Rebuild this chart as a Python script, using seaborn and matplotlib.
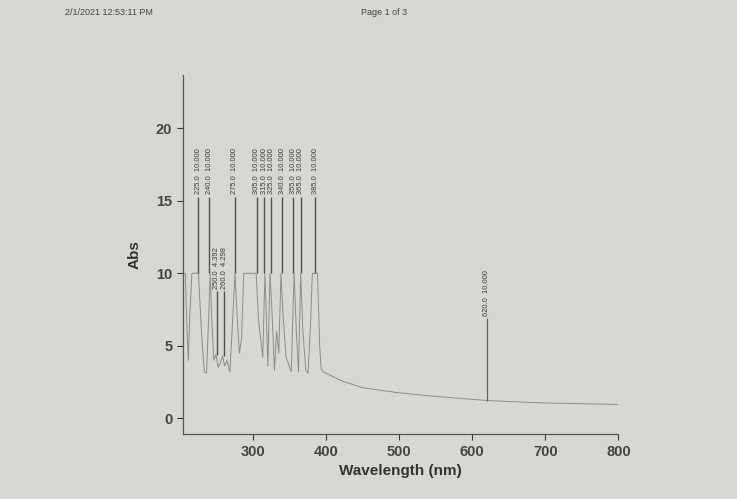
import matplotlib
matplotlib.use("Agg")
import matplotlib.pyplot as plt
import seaborn as sns
import pandas as pd

# ---- data ----
wavelength = [205, 207, 209, 211, 213, 216, 222, 225, 229, 233, 236, 239, 241, 243, 246,
              249, 252, 255, 258, 261, 264, 268, 271, 275, 278, 281, 284, 287, 300, 304,
              307, 310, 313, 316, 318, 320, 323, 326, 329, 332, 335, 338, 341, 345, 348,
              352, 356, 359, 362, 365, 368, 372, 375, 378, 381, 385, 388, 391, 393, 396,
              400, 420, 450, 500, 550, 600, 620, 650, 700, 750, 800]
absorb = [10, 10, 6.5, 4.0, 7.0, 10, 10, 10, 6.0, 3.2, 3.1, 7.0, 10, 7.0, 4.0,
          4.39, 3.5, 3.8, 4.3, 3.6, 4.0, 3.2, 6.0, 10, 7.0, 4.5, 5.5, 10, 10, 10,
          7.0, 5.5, 4.2, 10, 7.0, 3.6, 10, 7.0, 3.3, 6.0, 4.5, 10, 7.0, 4.2, 3.8,
          3.2, 10, 6.0, 3.2, 10, 6.0, 3.3, 3.1, 6.0, 10, 10, 10, 5.0, 3.4, 3.2,
          3.1, 2.6, 2.1, 1.75, 1.5, 1.3, 1.22, 1.15, 1.05, 1.0, 0.95]

peak_wl = [225.0, 240.0, 275.0, 305.0, 315.0, 325.0, 340.0, 355.0, 365.0, 385.0]
peak_abs = [10.000, 10.000, 10.000, 10.000, 10.000, 10.000, 10.000, 10.000, 10.000, 10.000]
small_wl = [250.0, 260.0]
small_abs = [4.392, 4.298]
far_wl = [620.0]
far_abs = [10.000]
far_base = [1.22]

x_ticks = [300, 400, 500, 600, 700, 800]
y_ticks = [0, 5, 10, 15, 20]

header_left = "2/1/2021 12:53:11 PM"
header_mid = "Page 1 of 3"

# ---- plot ----
sns.set_style("ticks")
plt.rcParams['font.family'] = ['Liberation Sans', 'DejaVu Sans']
paper = "#d9d7d3"
ink = "#3a3a3a"
curve = "#8c8c8c"

fig = plt.figure(figsize=(7.37, 4.99), dpi=100, facecolor=paper)
ax = fig.add_axes([0.248, 0.130, 0.591, 0.720])
ax.set_facecolor(paper)

df = pd.DataFrame({"Wavelength (nm)": wavelength, "Abs": absorb})
sns.lineplot(data=df, x="Wavelength (nm)", y="Abs", ax=ax, color=curve,
             linewidth=0.7, sort=False, estimator=None)

# peak marker lines + labels
ax.vlines(peak_wl, peak_abs, [15.3] * len(peak_wl), color="#505050", linewidth=1.0)
for w, a in zip(peak_wl, peak_abs):
    ax.text(w, 15.45, f"{w:.1f}  {a:.3f}", rotation=90, ha="center", va="bottom",
            fontsize=5.4, color=ink)
ax.vlines(small_wl, small_abs, [8.8] * len(small_wl), color="#505050", linewidth=1.0)
for w, a in zip(small_wl, small_abs):
    ax.text(w, 8.95, f"{w:.1f}  {a:.3f}", rotation=90, ha="center", va="bottom",
            fontsize=5.4, color=ink)
ax.vlines(far_wl, far_base, [6.9] * len(far_wl), color="#606060", linewidth=0.9)
for w, a in zip(far_wl, far_abs):
    ax.text(w, 7.05, f"{w:.1f}  {a:.3f}", rotation=90, ha="center", va="bottom",
            fontsize=5.4, color=ink)

ax.set_xlim(203.5, 800)
ax.set_ylim(-1.1, 23.7)
ax.set_xticks(x_ticks)
ax.set_yticks(y_ticks)
ax.tick_params(colors=ink, labelsize=10.5, length=4, width=0.8)
for lab in ax.get_xticklabels() + ax.get_yticklabels():
    lab.set_fontweight("bold")
    lab.set_color("#444444")
ax.set_xlabel("Wavelength (nm)", fontsize=11, fontweight="bold", color="#333333", labelpad=4)
ax.set_ylabel("Abs", fontsize=11, fontweight="bold", color="#333333", labelpad=10)
sns.despine(ax=ax)
for s in ("left", "bottom"):
    ax.spines[s].set_color("#555555")
    ax.spines[s].set_linewidth(0.9)
ax.grid(False)

fig.text(0.148, 0.975, header_left, ha="center", va="center", fontsize=6.5, color="#444444")
fig.text(0.521, 0.975, header_mid, ha="center", va="center", fontsize=6.5, color="#444444")

fig.savefig("out.png", dpi=100, facecolor=paper)
